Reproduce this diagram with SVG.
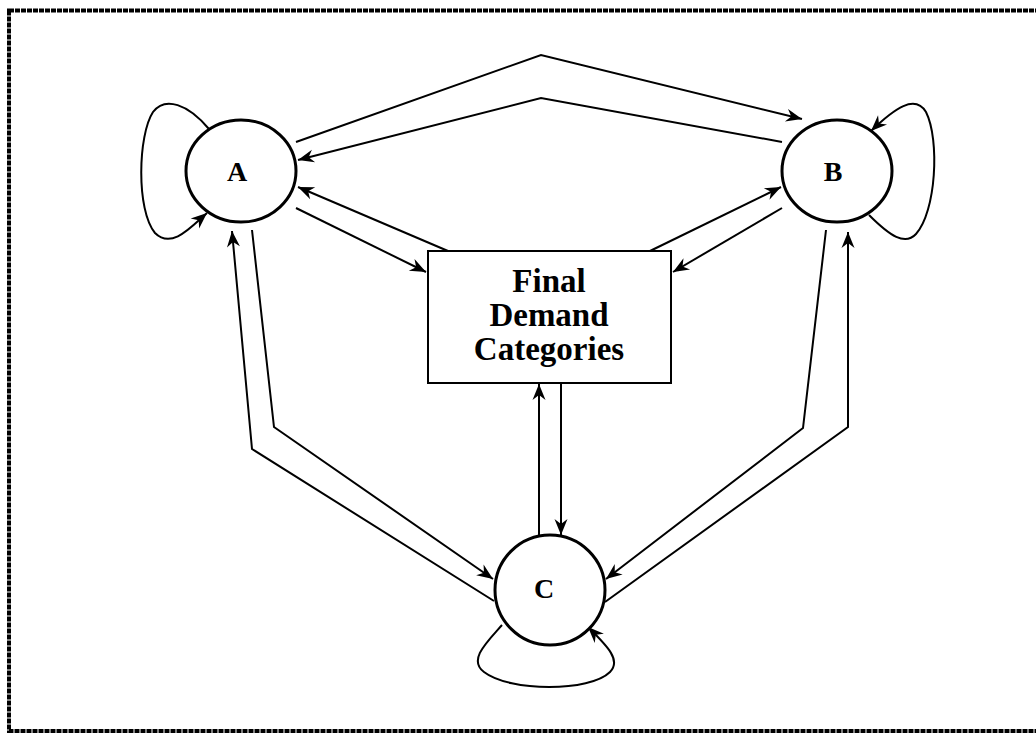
<svg xmlns="http://www.w3.org/2000/svg" width="1036" height="733" viewBox="0 0 1036 733">
<style>
.node{fill:#fff;stroke:#000;stroke-width:3}
.box{fill:#fff;stroke:#000;stroke-width:2}
.lbl{font-family:"Liberation Serif","Times New Roman",serif;font-weight:bold;font-size:28px;text-anchor:middle;fill:#000}
.bt{font-family:"Liberation Serif","Times New Roman",serif;font-weight:bold;font-size:33px;text-anchor:middle;fill:#000}
.c{fill:none;stroke:#000;stroke-width:2;marker-end:url(#ah)}
</style>
<defs>
<marker id="ah" markerUnits="userSpaceOnUse" viewBox="-16 -8 18 16" refX="0" refY="0" markerWidth="18" markerHeight="16" orient="auto" overflow="visible">
<path d="M0,0 L-16,-6.5 L-11,0 L-16,6.5 z" fill="#000"/>
</marker>
</defs>
<rect x="9" y="10.5" width="1040" height="720.5" fill="none" stroke="#000" stroke-width="4" stroke-dasharray="5 1"/>
<g id="connectors">
<path class="c" d="M296,142 L541,55 L802,119"/>
<path class="c" d="M782,142 L541,98 L298,160"/>
<path class="c" d="M448,251 L298,187"/>
<path class="c" d="M296,208 L426,272"/>
<path class="c" d="M650,251 L781,187"/>
<path class="c" d="M782,208 L673,272"/>
<path class="c" d="M539,535 L539,384"/>
<path class="c" d="M561,383 L561,535"/>
<path class="c" d="M494,601 L252,449 L232,231"/>
<path class="c" d="M252,230 L274,427 L493,579"/>
<path class="c" d="M826,230 L803,428 L606,579"/>
<path class="c" d="M605,602 L848,427 L848,232"/>
<path class="c" d="M209,129 C188,104 165,96 153,112 C138,135 136,210 155,233 C172,250 192,226 207,213"/>
<path class="c" d="M869,215 C890,236 905,246 916,234 C936,212 940,140 926,112 C915,94 895,108 871,131"/>
<path class="c" d="M502,625 C486,643 468,660 484,672 C510,692 590,692 610,672 C622,660 606,645 588,627"/>
</g>
<g id="nodeA">
<ellipse class="node" cx="241" cy="171" rx="55" ry="51"/>
<text class="lbl" x="237" y="181">A</text>
</g>
<g id="nodeB">
<ellipse class="node" cx="837" cy="171" rx="55" ry="51"/>
<text class="lbl" x="833" y="181">B</text>
</g>
<g id="nodeC">
<ellipse class="node" cx="550" cy="590" rx="55" ry="55"/>
<text class="lbl" x="544" y="598">C</text>
</g>
<g id="final">
<rect class="box" x="428" y="251" width="243" height="132"/>
<text class="bt" x="549" y="292">Final</text>
<text class="bt" x="549" y="326">Demand</text>
<text class="bt" x="549" y="360">Categories</text>
</g>
</svg>
